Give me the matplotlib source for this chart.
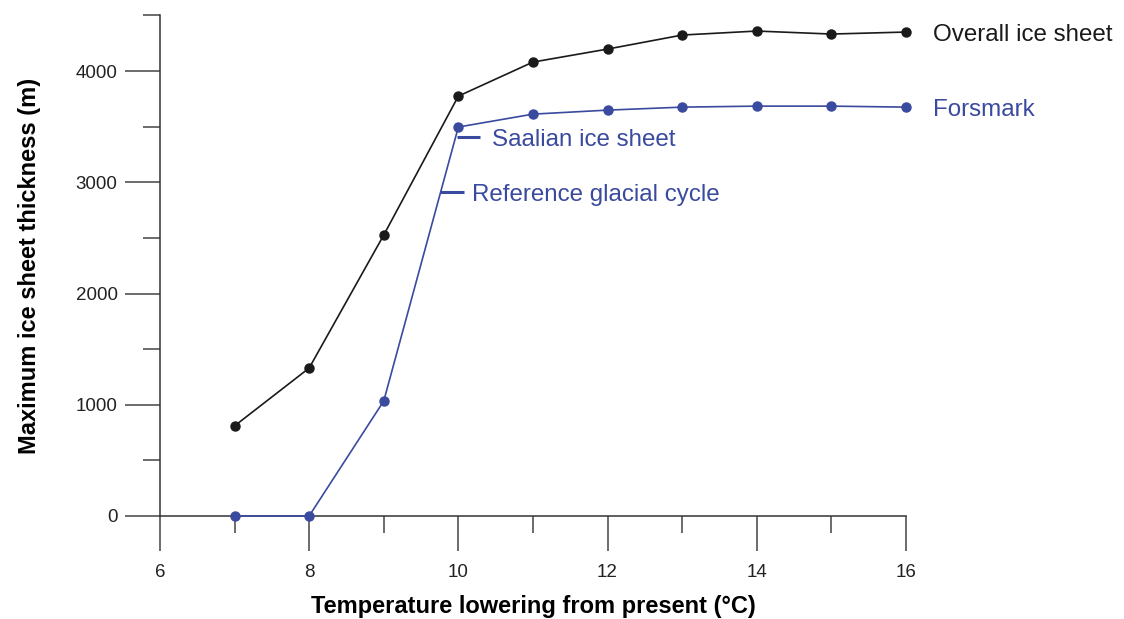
import matplotlib
matplotlib.use("Agg")
import matplotlib.pyplot as plt
from matplotlib.ticker import MultipleLocator

plt.rcParams['font.family'] = ['Liberation Sans', 'DejaVu Sans']

temperature = [7, 8, 9, 10, 11, 12, 13, 14, 15, 16]
overall_ice_sheet = [810, 1330, 2526, 3775, 4081, 4198, 4324, 4360, 4333, 4351]
forsmark = [0, 0, 1034, 3497, 3613, 3649, 3676, 3685, 3685, 3676]

series_labels = ["Overall ice sheet", "Forsmark"]
annotations = ["Saalian ice sheet", "Reference glacial cycle"]
annotation_levels = [3407, 2912]

black = "#1a1a1a"
blue = "#3a4a9e"

fig = plt.figure(figsize=(11.24, 6.19), dpi=100)
ax = fig.add_axes([0.1423, 0.1664, 0.6637, 0.8086])

ax.plot(temperature, overall_ice_sheet, color=black, lw=1.2, marker='o', ms=6.5, clip_on=False, zorder=3)
ax.plot(temperature, forsmark, color=blue, lw=1.2, marker='o', ms=6.5, clip_on=False, zorder=3)

ax.set_xlim(6, 16)
ax.set_ylim(0, 4500)

for s in ['top', 'right']:
    ax.spines[s].set_visible(False)
for s in ['left', 'bottom']:
    ax.spines[s].set_color('#333333')
    ax.spines[s].set_linewidth(1.1)

ax.xaxis.set_major_locator(MultipleLocator(2))
ax.xaxis.set_minor_locator(MultipleLocator(1))
ax.yaxis.set_major_locator(MultipleLocator(1000))
ax.yaxis.set_minor_locator(MultipleLocator(500))

ax.tick_params(which='major', length=25, width=1.1, color='#444444', labelsize=13.5, labelcolor='#222222')
ax.tick_params(which='minor', length=12.5, width=1.1, color='#444444')
ax.tick_params(axis='y', which='major', pad=5.5)
ax.tick_params(axis='x', which='major', pad=9.5)

ax.set_xlabel("Temperature lowering from present (°C)", fontsize=17, fontweight='bold', labelpad=10)
ax.set_ylabel("Maximum ice sheet thickness (m)", fontsize=17, fontweight='bold', labelpad=25)

# series labels at the right end
ax.text(16.36, overall_ice_sheet[-1], series_labels[0], color=black, fontsize=17.4, va='center_baseline', ha='left', clip_on=False)
ax.text(16.36, forsmark[-1], series_labels[1], color=blue, fontsize=17.4, va='center_baseline', ha='left', clip_on=False)

# annotations with small dashes
dash_x = [(9.98, 10.29), (9.75, 10.075)]
text_x = [10.45, 10.18]
for (x0, x1), tx, lvl, lab in zip(dash_x, text_x, annotation_levels, annotations):
    ax.plot([x0, x1], [lvl, lvl], color=blue, lw=2.2, solid_capstyle='butt', clip_on=False)
    ax.text(tx, lvl, lab, color=blue, fontsize=17.4, va='center_baseline', ha='left')

fig.savefig("out.png", dpi=100)
